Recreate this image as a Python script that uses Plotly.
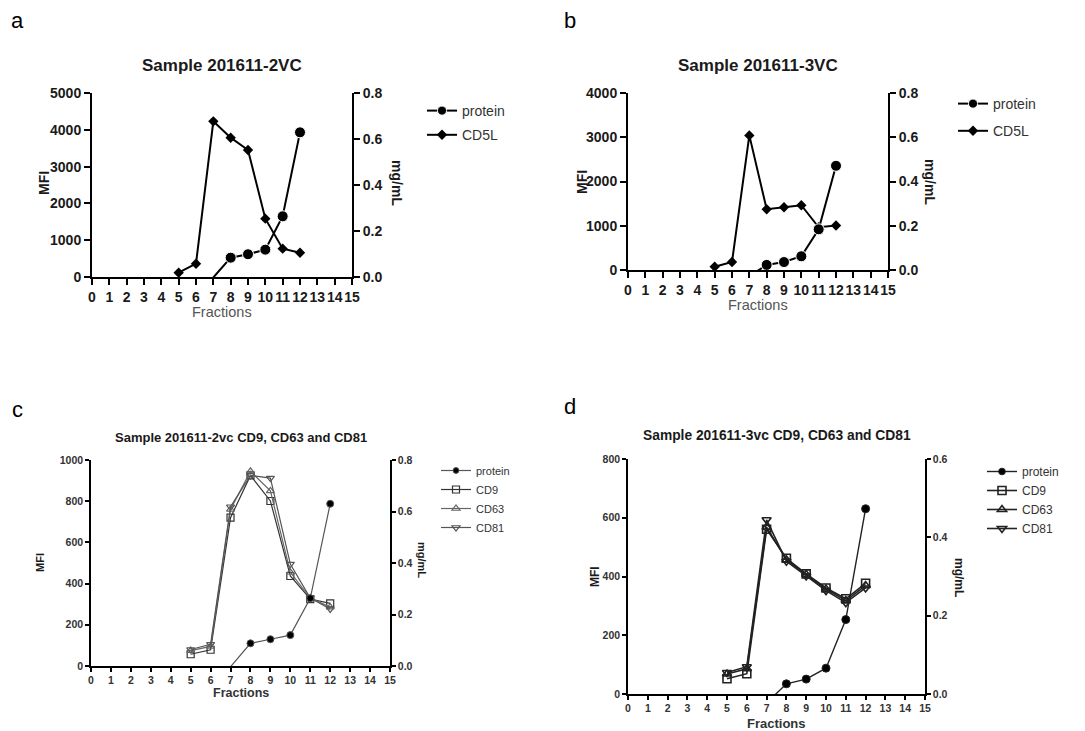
import plotly.graph_objects as go

W, H = 1085, 731

# ---------------- data ----------------
fractions = [5, 6, 7, 8, 9, 10, 11, 12]
protein_fractions = [7, 8, 9, 10, 11, 12]

a_protein = [-0.002, 0.084, 0.099, 0.119, 0.264, 0.629]
a_cd5l = [118, 362, 4230, 3786, 3451, 1585, 770, 661]

b_protein = [-0.028, 0.023, 0.036, 0.062, 0.184, 0.471]
b_cd5l = [75, 181, 3042, 1374, 1419, 1464, 966, 1004]

c_protein = [-0.003, 0.088, 0.104, 0.120, 0.263, 0.630]
c_cd9 = [57, 79, 720, 925, 801, 437, 325, 304]
c_cd63 = [75, 95, 760, 945, 850, 455, 330, 286]
c_cd81 = [80, 105, 773, 925, 912, 495, 330, 277]

d_protein = [-0.023, 0.026, 0.038, 0.066, 0.190, 0.473]
d_cd9 = [52, 69, 561, 462, 409, 361, 324, 377]
d_cd63 = [68, 86, 568, 457, 407, 357, 318, 369]
d_cd81 = [73, 93, 593, 452, 402, 352, 311, 361]

x_ticks = list(range(0, 16))

FONT = "Arial, Liberation Sans, sans-serif"


def px_x(p):
    return p / W


def px_y(p):
    return 1 - p / H


def sizes(vals, s):
    return [0 if v < 0 else s for v in vals]


fig = go.Figure()

panels = {
    "a": dict(x="x", yl="y", yr="y2", dx=(92, 352), dy=(93, 277), lrange=[0, 5000], ldtick=1000,
              rrange=[0, 0.8], rdtick=0.2, tfs=14, axw=2, ticklen=6),
    "b": dict(x="x2", yl="y3", yr="y4", dx=(628, 888), dy=(93, 270), lrange=[0, 4000], ldtick=1000,
              rrange=[0, 0.8], rdtick=0.2, tfs=14, axw=2, ticklen=6),
    "c": dict(x="x3", yl="y5", yr="y6", dx=(91, 390), dy=(460, 666), lrange=[0, 1000], ldtick=200,
              rrange=[0, 0.8], rdtick=0.2, tfs=10.5, axw=1.5, ticklen=4),
    "d": dict(x="x4", yl="y7", yr="y8", dx=(628, 925), dy=(459, 694), lrange=[0, 800], ldtick=200,
              rrange=[0, 0.6], rdtick=0.2, tfs=10.5, axw=1.5, ticklen=4),
}

# ---------------- traces ----------------
p = panels["a"]
fig.add_trace(go.Scatter(x=protein_fractions, y=a_protein, name="protein", xaxis=p["x"], yaxis=p["yr"],
                         mode="lines+markers", line=dict(color="black", width=2),
                         marker=dict(symbol="circle", size=sizes(a_protein, 11), color="black", opacity=1),
                         legend="legend", legendgroup="a1"))
fig.add_trace(go.Scatter(x=fractions, y=a_cd5l, name="CD5L", xaxis=p["x"], yaxis=p["yl"],
                         mode="lines+markers", line=dict(color="black", width=2),
                         marker=dict(symbol="diamond", size=8, color="black", opacity=1),
                         legend="legend", legendgroup="a2"))
p = panels["b"]
fig.add_trace(go.Scatter(x=protein_fractions, y=b_protein, name="protein", xaxis=p["x"], yaxis=p["yr"],
                         mode="lines+markers", line=dict(color="black", width=2),
                         marker=dict(symbol="circle", size=sizes(b_protein, 11), color="black", opacity=1),
                         legend="legend2", legendgroup="b1"))
fig.add_trace(go.Scatter(x=fractions, y=b_cd5l, name="CD5L", xaxis=p["x"], yaxis=p["yl"],
                         mode="lines+markers", line=dict(color="black", width=2),
                         marker=dict(symbol="diamond", size=8, color="black", opacity=1),
                         legend="legend2", legendgroup="b2"))
p = panels["c"]
fig.add_trace(go.Scatter(x=protein_fractions, y=c_protein, name="protein", xaxis=p["x"], yaxis=p["yr"],
                         mode="lines+markers", line=dict(color="#555555", width=1.2),
                         marker=dict(symbol="circle", size=sizes(c_protein, 7), color="black", opacity=1),
                         legend="legend3", legendgroup="c1"))
for name, vals, sym, col in [("CD9", c_cd9, "square-open", "#333333"),
                             ("CD63", c_cd63, "triangle-up-open", "#666666"),
                             ("CD81", c_cd81, "triangle-down-open", "#555555")]:
    fig.add_trace(go.Scatter(x=fractions, y=vals, name=name, xaxis=p["x"], yaxis=p["yl"],
                             mode="lines+markers", line=dict(color=col, width=1.2),
                             marker=dict(symbol=sym, size=7, color=col, line=dict(width=1.2, color=col)),
                             legend="legend3", legendgroup="c" + name))
p = panels["d"]
fig.add_trace(go.Scatter(x=protein_fractions, y=d_protein, name="protein", xaxis=p["x"], yaxis=p["yr"],
                         mode="lines+markers", line=dict(color="#222222", width=1.4),
                         marker=dict(symbol="circle", size=sizes(d_protein, 8), color="black", opacity=1),
                         legend="legend4", legendgroup="d1"))
for name, vals, sym in [("CD9", d_cd9, "square-open"),
                        ("CD63", d_cd63, "triangle-up-open"),
                        ("CD81", d_cd81, "triangle-down-open")]:
    fig.add_trace(go.Scatter(x=fractions, y=vals, name=name, xaxis=p["x"], yaxis=p["yl"],
                             mode="lines+markers", line=dict(color="#222222", width=1.6),
                             marker=dict(symbol=sym, size=8, color="#222222", line=dict(width=1.6, color="#222222")),
                             legend="legend4", legendgroup="d" + name))

# ---------------- axes ----------------
layout = dict(width=W, height=H, margin=dict(l=0, r=0, t=0, b=0, autoexpand=False),
              paper_bgcolor="white", plot_bgcolor="white",
              font=dict(family=FONT, color="#1a1a1a"))

for key, p in panels.items():
    xn = "xaxis" + p["x"][1:]
    yln = "yaxis" + p["yl"][1:]
    yrn = "yaxis" + p["yr"][1:]
    tcol = "#1a1a1a" if key in "ab" else "#333333"
    common = dict(showline=True, linecolor="black", linewidth=p["axw"], ticks="outside",
                  ticklen=p["ticklen"], tickwidth=p["axw"], tickcolor="black", showgrid=False,
                  zeroline=False, automargin=False, tickangle=0,
                  tickfont=dict(size=p["tfs"], weight="bold", color=tcol, family=FONT))
    layout[xn] = dict(domain=[px_x(p["dx"][0]), px_x(p["dx"][1])], anchor=p["yl"], range=[0, 15],
                      tickmode="array", tickvals=x_ticks, ticktext=[str(t) for t in x_ticks], **common)
    layout[yln] = dict(domain=[px_y(p["dy"][1]), px_y(p["dy"][0])], anchor=p["x"], range=p["lrange"],
                       dtick=p["ldtick"], tick0=0, **common)
    layout[yrn] = dict(overlaying=p["yl"], side="right", anchor=p["x"], range=p["rrange"],
                       dtick=p["rdtick"], tick0=0, tickformat=".1f", **common)

# ---------------- legends ----------------
leg_common = dict(xanchor="left", yanchor="top", bgcolor="rgba(0,0,0,0)", itemwidth=30,
                  itemclick=False, itemdoubleclick=False)
layout["legend"] = dict(x=px_x(422), y=px_y(95), font=dict(size=14, color="#333333", family=FONT),
                        tracegroupgap=3, **leg_common)
layout["legend2"] = dict(x=px_x(953), y=px_y(88), font=dict(size=14, color="#333333", family=FONT),
                         tracegroupgap=6, **leg_common)
layout["legend3"] = dict(x=px_x(436), y=px_y(456), font=dict(size=11, color="#333333", family=FONT),
                         tracegroupgap=0, **leg_common)
layout["legend4"] = dict(x=px_x(982), y=px_y(457), font=dict(size=12, color="#333333", family=FONT),
                         tracegroupgap=0, **leg_common)

fig.update_layout(**layout)

# ---------------- annotations ----------------
def ann(text, x, y, size, bold=False, color="#1a1a1a", angle=0, xanchor="center"):
    fig.add_annotation(text=text, x=px_x(x), y=px_y(y), xref="paper", yref="paper",
                       showarrow=False, textangle=angle, xanchor=xanchor, yanchor="middle",
                       font=dict(size=size, color=color, family=FONT, weight="bold" if bold else "normal"))

ann("a", 17, 21, 22, color="black")
ann("b", 570, 21, 22, color="black")
ann("c", 17, 409, 22, color="black")
ann("d", 570, 407, 22, color="black")

ann("Sample 201611-2VC", 222, 65, 17, bold=True)
ann("Sample 201611-3VC", 758, 65, 17, bold=True)
ann("Sample 201611-2vc CD9, CD63 and CD81", 241, 437, 13, bold=True)
ann("Sample 201611-3vc CD9, CD63 and CD81", 777, 435, 13.8, bold=True)

ann("MFI", 44, 183, 14, bold=True, angle=-90)
ann("mg/mL", 397, 183, 14, bold=True, angle=90)
ann("Fractions", 222, 312, 14.5, color="#555555")
ann("MFI", 582, 182, 14, bold=True, angle=-90)
ann("mg/mL", 930, 182, 14, bold=True, angle=90)
ann("Fractions", 758, 305, 14.5, color="#555555")
ann("MFI", 40, 563, 11, bold=True, angle=-90)
ann("mg/mL", 422, 560, 11, bold=True, angle=90)
ann("Fractions", 241, 693, 12.5, bold=True, color="#333333")
ann("MFI", 595, 577, 12, bold=True, angle=-90)
ann("mg/mL", 959, 577, 12, bold=True, angle=90)
ann("Fractions", 776, 723, 13, bold=True, color="#333333")

fig.write_html("out.html")
